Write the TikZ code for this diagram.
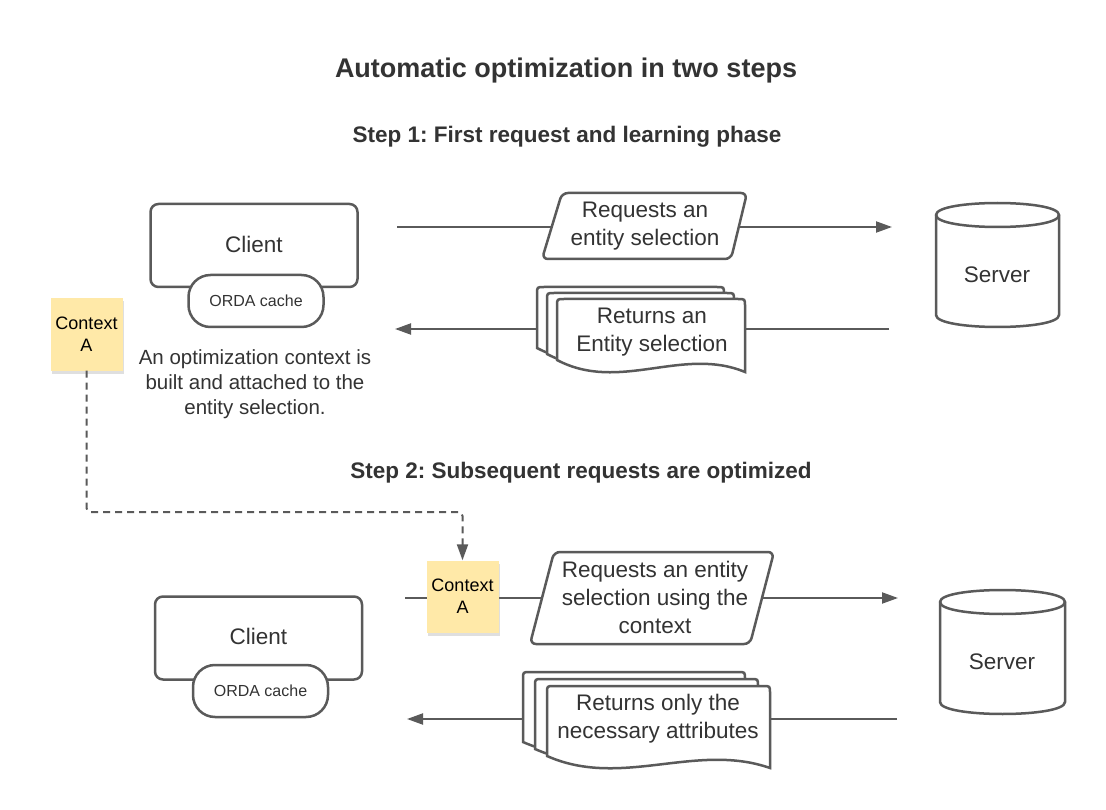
\documentclass[tikz,border=0pt]{standalone}
\usepackage{fontspec}
\setmainfont{Liberation Sans}
\usetikzlibrary{arrows.meta,shadows}
\frenchspacing

\definecolor{linegray}{HTML}{5A5A5A}
\definecolor{textgray}{HTML}{333333}
\definecolor{notefill}{HTML}{FFE9A8}

\newcommand{\docshape}[4]{%
  \draw[shapeline,fill=white] (#1,#4-12) -- (#1,#2+7) .. controls (#1,#2) .. (#1+7,#2)
    -- (#3-7,#2) .. controls (#3,#2) .. (#3,#2+7) -- (#3,#4)
    .. controls ({#3-(#3-#1)/3},#4-26) and ({#1+(#3-#1)/3},#4+21) .. (#1,#4-12) -- cycle;}
\newcommand{\servershape}[4]{%
  \draw[shapeline,fill=white] (#1,#2+12) -- (#1,#4-12) .. controls (#1,#4+4) and (#3,#4+4) .. (#3,#4-12)
    -- (#3,#2+12) .. controls (#3,#2-4) and (#1,#2-4) .. (#1,#2+12) -- cycle;
  \draw[shapeline] (#1,#2+12) .. controls (#1,#2+28) and (#3,#2+28) .. (#3,#2+12);}

\begin{document}
\begin{tikzpicture}[x=1pt,y=-1pt,
    shapeline/.style={draw=linegray,line width=2.5pt},
    box/.style={shapeline,fill=white,rounded corners=8pt,minimum width=207pt,minimum height=83pt,
      font=\fontsize{22.5}{27}\selectfont,text=textgray},
    cache/.style={shapeline,fill=white,rounded corners=22pt,minimum width=135pt,minimum height=52pt,
      font=\fontsize{16}{19}\selectfont,text=textgray},
    label/.style={font=\fontsize{22.5}{28}\selectfont,text=textgray,align=center},
    heading/.style={font=\bfseries\fontsize{22.5}{27}\selectfont,text=textgray},
    sticky/.style={fill=notefill,minimum width=72pt,minimum height=72pt,align=center,
      font=\fontsize{18}{22}\selectfont,drop shadow={opacity=0.25,shadow xshift=1pt,shadow yshift=-3pt}},
    flow/.style={draw=linegray,line width=2pt,-{Triangle[length=16pt,width=11pt]}},
    ctxlink/.style={draw=linegray,line width=2pt,dash pattern=on 7pt off 5pt,rounded corners=4pt,
      -{Triangle[length=16pt,width=11pt]}}]
  \fill[white] (0,0) rectangle (1106,810);
  \useasboundingbox (0,0) rectangle (1106,810);

  \node[font=\bfseries\fontsize{27}{32}\selectfont,text=textgray] (title) at (566,71) {Automatic optimization in two steps};
  \node[heading] (step1) at (567,136.5) {Step 1: First request and learning phase};
  \node[heading] (step2) at (581,472.5) {Step 2: Subsequent requests are optimized};

  % step 1
  \coordinate (c1req) at (397,227);
  \coordinate (s1req) at (892,227);
  \coordinate (s1ret) at (889,329);
  \coordinate (c1ret) at (395,329);
  \draw[flow] (c1req) -- (s1req);
  \draw[flow] (s1ret) -- (c1ret);

  \node[box] (client1) at (254,245.5) {\raisebox{3pt}{Client}};
  \node[cache] (cache1) at (256,301) {ORDA cache};
  \node[label,font=\fontsize{20.5}{25}\selectfont] (note1) at (255,384) {An optimization context is\\built and attached to the\\entity selection.};
  \node[sticky] (ctxA1) at (86.5,334.5) {Context\\A};

  \draw[shapeline,fill=white,rounded corners=6pt] (562,193) -- (747,193) -- (731,259) -- (542,259) -- cycle;
  \node[label] (req1) at (645,226) {Requests an\\entity selection};

  \docshape{537}{287}{724}{360}
  \docshape{547}{293}{734}{366}
  \docshape{557}{299}{745}{372}
  \node[label] (ret1) at (652,332) {Returns an\\Entity selection};

  \servershape{936}{203}{1059}{327}
  \node[label] (server1) at (997,275) {Server};

  % step 2
  \coordinate (c2req) at (405,598);
  \coordinate (s2req) at (898,598);
  \coordinate (s2ret) at (897,719);
  \coordinate (c2ret) at (407,719);
  \draw[flow] (c2req) -- (s2req);
  \draw[flow] (s2ret) -- (c2ret);

  \node[box] (client2) at (258.5,638) {\raisebox{3pt}{Client}};
  \node[cache] (cache2) at (260.5,691) {ORDA cache};

  \draw[shapeline,fill=white,rounded corners=6pt] (554,552) -- (774,552) -- (750,644) -- (530,644) -- cycle;
  \node[label] (req2) at (655,597) {Requests an entity\\selection using the\\context};
  \node[sticky] (ctxA2) at (462.5,596.5) {Context\\A};

  \docshape{523}{672}{745}{754}
  \docshape{535}{679}{758}{761}
  \docshape{547}{686}{770}{768}
  \node[label] (ret2) at (658,719) {Returns only the\\necessary attributes};

  \servershape{940}{590}{1065}{714}
  \node[label] (server2) at (1002,662) {Server};

  \coordinate (dashbend) at (0,512);
  \draw[ctxlink] (ctxA1.south) -- (ctxA1.south |- dashbend) -| (ctxA2.north);
\end{tikzpicture}
\end{document}
